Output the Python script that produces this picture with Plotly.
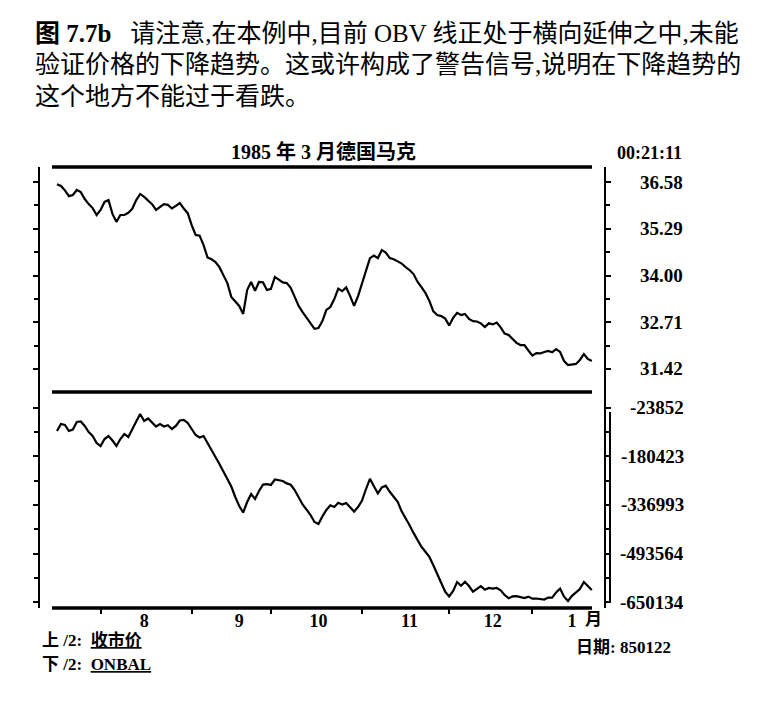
import pandas as pd
import plotly.graph_objects as go

# daily data, 1984-07-17 .. 1985-01-22 (business days)
dates = pd.bdate_range("1984-07-17", "1985-01-22")

close = [
    36.52, 36.47, 36.35, 36.19, 36.22, 36.36, 36.30, 36.11, 35.97, 35.86,
    35.67, 35.81, 36.03, 36.08, 35.70, 35.48, 35.67, 35.67, 35.73, 35.84,
    36.08, 36.25, 36.17, 36.07, 35.97, 35.81, 35.90, 35.97, 35.95, 35.85,
    35.92, 36.00, 35.85, 35.72, 35.39, 35.12, 35.10, 34.84, 34.50, 34.45,
    34.37, 34.23, 34.01, 33.79, 33.41, 33.27, 33.16, 32.94, 33.60, 33.82,
    33.58, 33.82, 33.81, 33.60, 33.63, 33.96, 33.89, 33.81, 33.79, 33.66,
    33.41, 33.16, 32.99, 32.84, 32.69, 32.53, 32.55, 32.74, 33.05, 33.13,
    33.35, 33.64, 33.57, 33.67, 33.43, 33.16, 33.43, 33.77, 34.08, 34.48,
    34.55, 34.48, 34.70, 34.63, 34.48, 34.45, 34.39, 34.33, 34.23, 34.15,
    34.04, 33.83, 33.68, 33.52, 33.30, 33.01, 32.91, 32.88, 32.81, 32.62,
    32.83, 32.97, 32.91, 32.94, 32.80, 32.74, 32.73, 32.68, 32.58, 32.68,
    32.65, 32.70, 32.57, 32.40, 32.36, 32.26, 32.14, 32.08, 32.08, 31.93,
    31.79, 31.86, 31.85, 31.89, 31.92, 31.88, 31.97, 31.89, 31.64, 31.53,
    31.54, 31.56, 31.67, 31.83, 31.70, 31.64,
]

onbal = [
    -98100, -75600, -78800, -98100, -93300, -69100, -67500, -82000, -101400, -114300,
    -136900, -146600, -124000, -114300, -128800, -146600, -124000, -107800, -117500, -94900,
    -67500, -43300, -65900, -57800, -69100, -83600, -75600, -83600, -79700, -91700,
    -82000, -64300, -62000, -72300, -91700, -111100, -119100, -114300, -136900, -157900,
    -182100, -204700, -228900, -254700, -277300, -311200, -340200, -361200, -327300, -301500,
    -317700, -291800, -271200, -269900, -272500, -254700, -256300, -259500, -267300, -271800,
    -288600, -312800, -335100, -352200, -369300, -391900, -398400, -373800, -353200, -338000,
    -343500, -329900, -335700, -330600, -344400, -358000, -343500, -322800, -285400, -252400,
    -276700, -299300, -280500, -274700, -294400, -309900, -326400, -357400, -377700, -402500,
    -427100, -451300, -471900, -487800, -504600, -531300, -561000, -590700, -617200, -632100,
    -614600, -585600, -597800, -584900, -598500, -616600, -608200, -599100, -610400, -604900,
    -606900, -604900, -612400, -627500, -637900, -632100, -631400, -633300, -637200, -632700,
    -639200, -638800, -640500, -642100, -635600, -635900, -619100, -606900, -633000, -646900,
    -630100, -619500, -608200, -585600, -600100, -611400,
]

price_ticks = [36.58, 35.29, 34.00, 32.71, 31.42]
price_labels = ["36.58", "35.29", "34.00", "32.71", "31.42"]
obv_ticks = [-23852, -180423, -336993, -493564, -650134]
obv_labels = ["-23852", "-180423", "-336993", "-493564", "-650134"]

month_mid = ["1984-08-16", "1984-09-19", "1984-10-17", "1984-11-19", "1984-12-18", "1985-01-15"]
month_text = ["8", "9", "10", "11", "12", "1"]
month_start = ["1984-08-01", "1984-09-03", "1984-10-01", "1984-11-01", "1984-12-03", "1985-01-01"]

# the page puts the figure 8px in from the top-left corner
OFF = 8
W, H = 767 - 2 * OFF, 702 - 2 * OFF
SERIF = "Liberation Serif, Noto Sans CJK SC"


def px(x):
    return (x - OFF) / W


def py(y):
    return 1 - (y - OFF) / H


def halves(t):
    return [(a + b) / 2 for a, b in zip(t[:-1], t[1:])]


fig = go.Figure()
fig.add_scatter(x=dates, y=close, xaxis="x", yaxis="y", mode="lines",
                line=dict(color="black", width=2.2), showlegend=False)
fig.add_scatter(x=dates, y=onbal, xaxis="x", yaxis="y2", mode="lines",
                line=dict(color="black", width=2.2), showlegend=False)

yax = dict(side="right", showline=True, linecolor="black", linewidth=1.5,
           mirror="ticks", ticks="outside", ticklen=5, tickwidth=2, tickcolor="black",
           showticklabels=False, showgrid=False, zeroline=False, tickmode="array")

fig.update_layout(
    width=W, height=H, margin=dict(l=0, r=0, t=0, b=0),
    paper_bgcolor="white", plot_bgcolor="white",
    xaxis=dict(domain=[px(40), px(604)], anchor="y2", type="date",
               rangebreaks=[dict(bounds=["sat", "mon"])],
               range=["1984-07-10 17:00", "1985-01-25 02:00"],
               tickmode="array", tickvals=month_mid, ticktext=month_text,
               ticks="", showgrid=False, showline=False, zeroline=False,
               tickfont=dict(family=SERIF, size=18, color="black", weight="bold"),
               minor=dict(tickmode="array", tickvals=month_start, ticks="outside",
                          ticklen=5, tickwidth=2, tickcolor="black", showgrid=False)),
    yaxis=dict(yax, domain=[py(392), py(167)], anchor="x",
               range=[30.785, 36.994], tickvals=price_ticks,
               minor=dict(tickmode="array", tickvals=halves(price_ticks) + [31.42 - 0.645],
                          ticks="outside", ticklen=4, tickwidth=2, tickcolor="black")),
    yaxis2=dict(yax, domain=[py(608), py(392)], anchor="x",
                range=[-669502, 27746], tickvals=obv_ticks,
                minor=dict(tickmode="array", tickvals=halves(obv_ticks),
                           ticks="outside", ticklen=4, tickwidth=2, tickcolor="black")),
)

# heavy rules across the panels and the doubled right edge of the lower panel
for y in (167, 392, 608):
    fig.add_shape(type="line", xref="paper", yref="paper",
                  x0=px(52), x1=px(592), y0=py(y), y1=py(y),
                  line=dict(color="black", width=3.5))
fig.add_shape(type="line", xref="paper", yref="paper",
              x0=px(610), x1=px(610), y0=py(412), y1=py(603),
              line=dict(color="black", width=2))

# right-aligned axis labels
for v, t in zip(price_ticks, price_labels):
    fig.add_annotation(x=px(685), y=v, xref="paper", yref="y", text=t,
                       xanchor="right", yanchor="middle", showarrow=False,
                       font=dict(family=SERIF, size=19, color="black", weight="bold"))
for v, t in zip(obv_ticks, obv_labels):
    fig.add_annotation(x=px(686), y=v, xref="paper", yref="y2", text=t,
                       xanchor="right", yanchor="middle", showarrow=False,
                       font=dict(family=SERIF, size=19, color="black", weight="bold"))


def note(x, y, text, size=17, anchor="left", weight="normal"):
    fig.add_annotation(x=px(x), y=py(y), xref="paper", yref="paper", text=text,
                       xanchor=anchor, yanchor="middle", showarrow=False,
                       font=dict(family=SERIF, size=size, color="black", weight=weight))


caption = [
    "<b>图 7.7b</b>\u00a0\u00a0\u00a0请注意,在本例中,目前 OBV 线正处于横向延伸之中,未能",
    "验证价格的下降趋势。这或许构成了警告信号,说明在下降趋势的",
    "这个地方不能过于看跌。",
]
for i, line in enumerate(caption):
    note(33, 33 + 31.5 * i, line, size=25)

note(323, 152, "1985 年 3 月德国马克", size=20, anchor="center", weight="bold")
note(684, 153, "00:21:11", size=18, anchor="right", weight="bold")
note(593, 619, "月", size=17, anchor="center", weight="bold")
note(40, 640, "上 /2:  <u>收市价</u>", size=17, weight="bold")
note(40, 664, "下 /2:  <u>ONBAL</u>", size=17, weight="bold")
note(673, 647, "日期: 850122", size=17, anchor="right", weight="bold")

fig.write_html("out.html")
